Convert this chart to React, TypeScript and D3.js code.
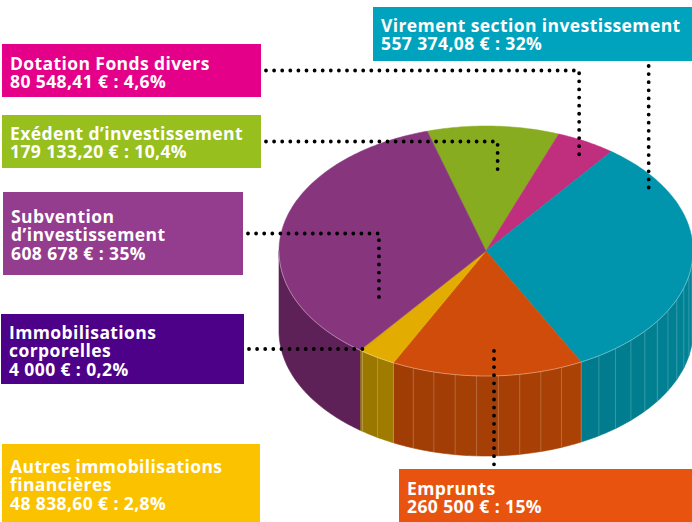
import React, { useRef, useEffect } from 'react';
import * as d3 from 'd3';

// slices, in clockwise order starting from the green one at the top
const categories = [
  ["Exédent d’investissement"],
  ["Dotation Fonds divers"],
  ["Virement section investissement"],
  ["Emprunts"],
  ["Autres immobilisations", "financières"],
  ["Immobilisations", "corporelles"],
  ["Subvention", "d’investissement"]
];
const amounts = [179133.20, 80548.41, 557374.08, 260500, 48838.60, 4000, 608678];
const percentLabels = ["10,4%", "4,6%", "32%", "15%", "2,8%", "0,2%", "35%"];

const topColors = ["#88AC1F", "#C02E7E", "#0095AD", "#CF4C0B", "#E2AD00", "#D9A500", "#87367E"];
const sideColors = ["#6A8618", "#952260", "#007F92", "#A53F05", "#9C7A00", "#9A7800", "#5E2157"];
const boxColors = ["#97BF1E", "#E5008A", "#00A3BE", "#E8540F", "#FBC200", "#4D0088", "#943C8E"];

// label boxes + leader lines (layout only)
const layout = [
  { x: 2, y: 115, w: 259, h: 53, ty: 25, leader: "h", t: 0.585, r: 0.62 },
  { x: 2, y: 44, w: 259, h: 53, ty: 26, leader: "h", t: 0.61, r: 0.88 },
  { x: 373, y: 7, w: 319, h: 54, ty: 25, leader: "down", t: 0.177, r: 0.93 },
  { x: 399, y: 469, w: 293, h: 53, ty: 26, leader: "up", t: 0.456, r: 0.8 },
  { x: 2, y: 444, w: 258, h: 78, ty: 29, leader: null, t: 0.5, r: 0.5 },
  { x: 1, y: 314, w: 243, h: 70, ty: 25, leader: "h", t: 0.5, r: 0.98 },
  { x: 3, y: 192, w: 240, h: 83, ty: 31, leader: "h", t: 0.13, r: 0.64 }
];

const width = 692, height = 522;
const cx = 486, cy = 251, rx = 207, ry = 125, depth = 80;
const startDeg = -16.5;

export default function App() {
  const svgRef = useRef<SVGSVGElement>(null);

  useEffect(() => {
    const svg = d3.select(svgRef.current);
    svg.selectAll("*").remove();

    const start = startDeg * Math.PI / 180;
    const pie = d3.pie<number>()
      .sort(null)
      .value(d => d)
      .startAngle(start)
      .endAngle(start + 2 * Math.PI);
    const arcs = pie(amounts);

    const pt = (a: number, r = 1, dy = 0): [number, number] =>
      [cx + rx * r * Math.sin(a), cy - ry * r * Math.cos(a) + dy];
    const line = d3.line();
    const sample = (a0: number, a1: number, dy = 0) => {
      const n = Math.max(2, Math.ceil(Math.abs(a1 - a0) / (Math.PI / 180)));
      return d3.range(n + 1).map(i => pt(a0 + (a1 - a0) * i / n, 1, dy));
    };

    const fr = (x: string) => d3.formatLocale({ decimal: ",", thousands: " ", grouping: [3], currency: ["", ""] }).format(x);
    const fmtAmount = (v: number) => Number.isInteger(v) ? fr(",.0f")(v) : fr(",.2f")(v);

    // side walls (front half only)
    const sides = svg.append("g");
    const lo = Math.PI / 2, hi = 3 * Math.PI / 2;
    arcs.forEach((d, i) => {
      const a0 = Math.max(d.startAngle, lo), a1 = Math.min(d.endAngle, hi);
      if (a1 <= a0) return;
      const striped = i !== 6;
      const n = striped ? Math.max(1, Math.ceil((a1 - a0) / (6.2 * Math.PI / 180))) : 1;
      const step = (a1 - a0) / n;
      const base = d3.color(sideColors[i])!;
      const shade = d3.interpolateRgb(base.brighter(0.1).toString(), base.darker(0.1).toString());
      for (let k = 0; k < n; k++) {
        const s = a0 + k * step, e = s + step;
        const pts = sample(s, e).concat(sample(e, s, depth));
        const c = striped ? shade((k + 0.5) / n) : base.toString();
        sides.append("path")
          .attr("d", line(pts) + "Z")
          .attr("fill", c)
          .attr("stroke", c)
          .attr("stroke-width", 0.6);
      }
      if (striped) {
        for (let k = 0; k <= n; k++) {
          const a = a0 + k * step;
          if (a <= lo + 0.01 || a >= hi - 0.01) continue;
          sides.append("path")
            .attr("d", line([pt(a), pt(a, 1, depth)]))
            .attr("stroke", "rgba(255,255,255,0.28)")
            .attr("stroke-width", 0.7);
        }
      }
    });

    // top faces
    const tops = svg.append("g");
    arcs.forEach((d, i) => {
      const pts = [[cx, cy] as [number, number]].concat(sample(d.startAngle, d.endAngle));
      tops.append("path")
        .attr("d", line(pts) + "Z")
        .attr("fill", topColors[i])
        .attr("stroke", topColors[i])
        .attr("stroke-width", 0.5);
    });
    tops.append("path")
      .attr("d", line(sample(lo, hi)))
      .attr("fill", "none")
      .attr("stroke", "rgba(255,255,255,0.45)")
      .attr("stroke-width", 0.8);

    // leader lines
    const leaders = svg.append("g")
      .attr("fill", "none")
      .attr("stroke", "#000")
      .attr("stroke-width", 3.8)
      .attr("stroke-linecap", "round")
      .attr("stroke-dasharray", "0 8.1");
    arcs.forEach((d, i) => {
      const L = layout[i];
      if (!L.leader) return;
      const a = d.startAngle + (d.endAngle - d.startAngle) * L.t;
      const [ax, ay] = pt(a, L.r);
      let pts: [number, number][];
      if (L.leader === "h") {
        const y0 = L.y + L.h / 2;
        pts = [[L.x + L.w + 5, y0], [ax, y0], [ax, ay]];
      } else if (L.leader === "down") {
        pts = [[ax, L.y + L.h + 5], [ax, ay]];
      } else {
        pts = [[ax, ay], [ax, L.y - 3]];
      }
      leaders.append("path").attr("d", line(pts));
    });

    // label boxes
    const boxes = svg.append("g");
    arcs.forEach((d, i) => {
      const L = layout[i];
      const g = boxes.append("g");
      g.append("rect")
        .attr("x", L.x).attr("y", L.y)
        .attr("width", L.w).attr("height", L.h)
        .attr("fill", boxColors[i]);
      const lines = categories[i].concat([`${fmtAmount(amounts[i])} € : ${percentLabels[i]}`]);
      lines.forEach((t, j) => {
        g.append("text")
          .attr("x", L.x + 8)
          .attr("y", L.y + L.ty + j * 18.4)
          .attr("fill", "#fff")
          .attr("font-family", "'Open Sans', sans-serif")
          .attr("font-weight", 700)
          .attr("font-size", 17.5)
          .attr("letter-spacing", 0.4)
          .text(t);
      });
    });
  }, []);

  return (
    <svg ref={svgRef} width={width} height={height}
      style={{ position: "absolute", left: 0, top: 0, background: "#fff" }} />
  );
}
